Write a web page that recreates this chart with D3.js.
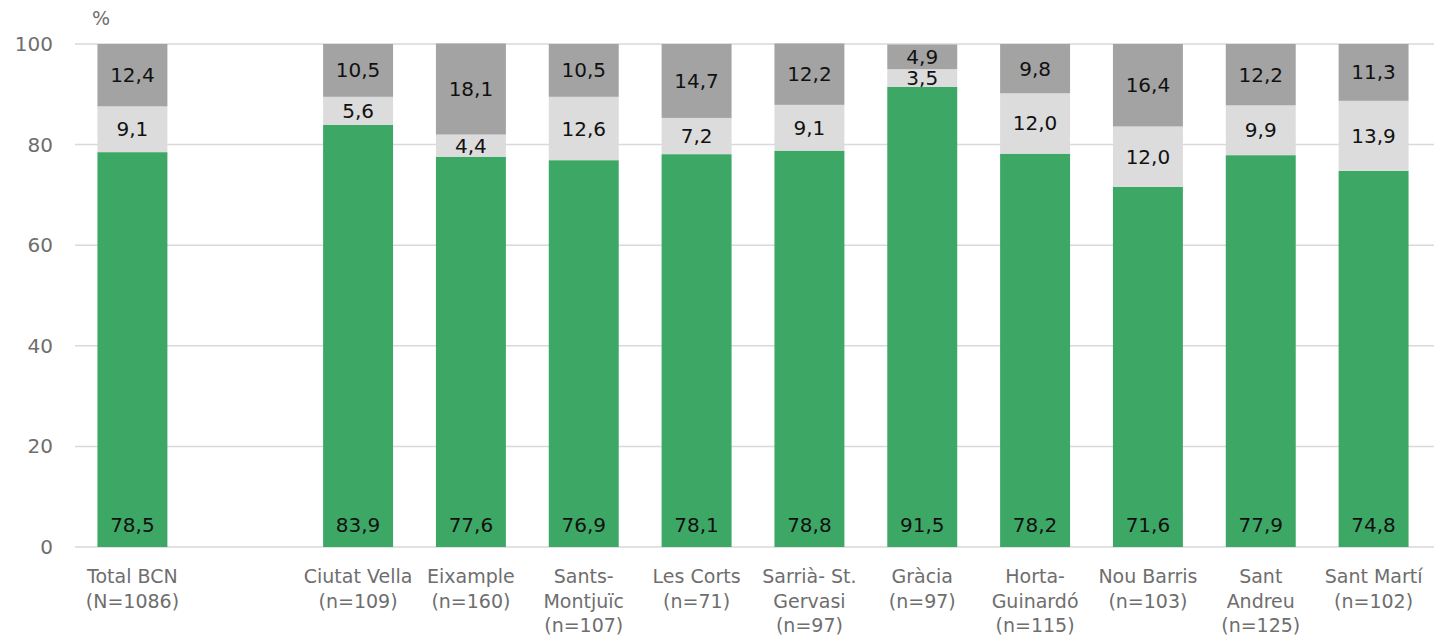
<!DOCTYPE html>
<html>
<head>
<meta charset="utf-8">
<script src="https://cdn.jsdelivr.net/npm/d3@7"></script>
<style>
  html, body { margin: 0; padding: 0; background: #fff; }
  svg { display: block; font-family: "DejaVu Sans", sans-serif; }
</style>
</head>
<body>
<svg id="chart" width="1434" height="636"></svg>
<script>
// Districts of Barcelona (empty slot separates the city total)
const categories = ["Total BCN", "", "Ciutat Vella", "Eixample", "Sants-Montjuïc", "Les Corts",
  "Sarrià-St. Gervasi", "Gràcia", "Horta-Guinardó", "Nou Barris", "Sant Andreu", "Sant Martí"];
const categoryLines = [
  ["Total BCN", "(N=1086)"], [], ["Ciutat Vella", "(n=109)"], ["Eixample", "(n=160)"],
  ["Sants-", "Montjuïc", "(n=107)"], ["Les Corts", "(n=71)"], ["Sarrià- St.", "Gervasi", "(n=97)"],
  ["Gràcia", "(n=97)"], ["Horta-", "Guinardó", "(n=115)"], ["Nou Barris", "(n=103)"],
  ["Sant", "Andreu", "(n=125)"], ["Sant Martí", "(n=102)"]
];
const seriesGreen = [78.5, null, 83.9, 77.6, 76.9, 78.1, 78.8, 91.5, 78.2, 71.6, 77.9, 74.8];
const seriesLight = [9.1, null, 5.6, 4.4, 12.6, 7.2, 9.1, 3.5, 12.0, 12.0, 9.9, 13.9];
const seriesDark  = [12.4, null, 10.5, 18.1, 10.5, 14.7, 12.2, 4.9, 9.8, 16.4, 12.2, 11.3];
const yTicks = [0, 20, 40, 60, 80, 100];

const colors = ["#3da866", "#dcdcdc", "#a3a3a3"];
const series = [seriesGreen, seriesLight, seriesDark];
const gray = "#6e6e6e";

const svg = d3.select("#chart");
const x = d3.scaleBand().domain(categories.map((c, i) => i)).range([76, 1430])
  .paddingInner(0.38).paddingOuter(0.19);
const y = d3.scaleLinear().domain([0, 100]).range([547, 44]);

// gridlines
svg.append("g").selectAll("line").data(yTicks).join("line")
  .attr("x1", 75).attr("x2", 1434)
  .attr("y1", d => y(d)).attr("y2", d => y(d))
  .attr("stroke", "#d9d9d9").attr("stroke-width", 1.5);

// y-axis labels
const yAxis = d3.axisLeft(y).tickValues(yTicks).tickSize(0).tickPadding(0);
svg.append("g").attr("transform", "translate(53,0)").call(yAxis)
  .call(g => g.select(".domain").remove())
  .call(g => g.selectAll("text").attr("fill", gray).attr("font-size", 20)
    .attr("font-family", "'DejaVu Sans', sans-serif"));

svg.append("text").attr("x", 101).attr("y", 25).attr("text-anchor", "middle")
  .attr("fill", gray).attr("font-size", 19).text("%");

// stacked bars
const fmt = v => v.toFixed(1).replace(".", ",");
categories.forEach((c, i) => {
  if (seriesGreen[i] == null) return;
  let base = 0;
  series.forEach((s, k) => {
    const v = s[i];
    const top = base + v;
    svg.append("rect")
      .attr("x", x(i)).attr("width", x.bandwidth())
      .attr("y", y(top)).attr("height", y(base) - y(top))
      .attr("fill", colors[k]);
    const ly = k === 0 ? y(0) - 15 : (y(base) + y(top)) / 2 + 7;
    svg.append("text")
      .attr("x", x(i) + x.bandwidth() / 2).attr("y", ly)
      .attr("text-anchor", "middle").attr("font-size", 20).attr("fill", "#111")
      .text(fmt(v));
    base = top;
  });
});

// category labels
categoryLines.forEach((lines, i) => {
  const t = svg.append("text").attr("text-anchor", "middle")
    .attr("fill", gray).attr("font-size", 19);
  lines.forEach((ln, j) => {
    t.append("tspan").attr("x", x(i) + x.bandwidth() / 2)
      .attr("y", 583 + j * 24.5).text(ln);
  });
});
</script>
</body>
</html>
